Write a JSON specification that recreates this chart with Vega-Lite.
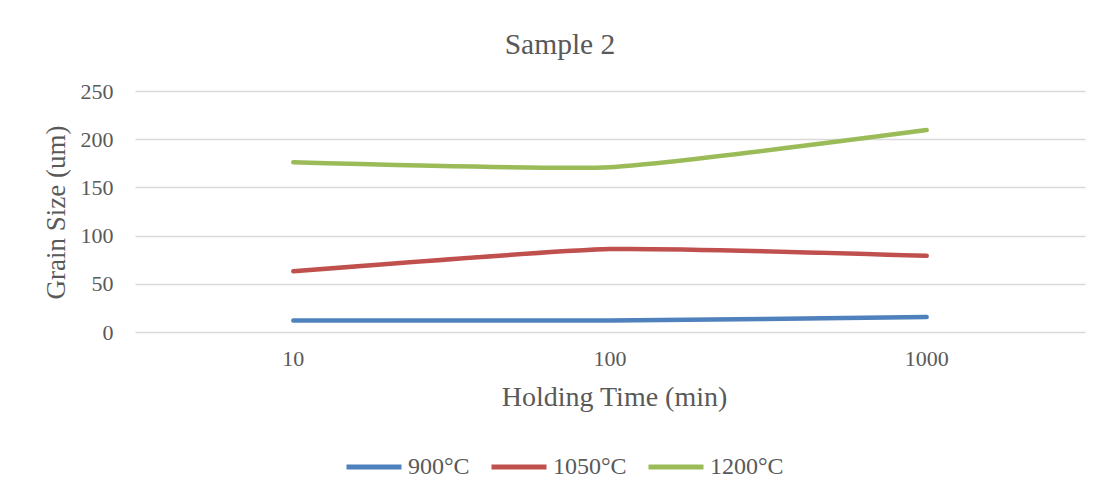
{
  "$schema": "https://vega.github.io/schema/vega-lite/v6.json",
  "width": 950,
  "height": 241,
  "autosize": {"type": "none"},
  "padding": {"left": 135, "top": 91, "right": 23, "bottom": 167},
  "background": "white",
  "config": {
    "font": "Liberation Serif",
    "view": {"stroke": null}
  },
  "title": {
    "text": "Sample 2",
    "font": "Liberation Serif",
    "fontSize": 29.5,
    "fontWeight": "normal",
    "color": "#595959",
    "anchor": "middle",
    "dx": -50,
    "offset": 20
  },
  "data": {
    "values": [
      {"time": "10", "series": "900°C", "size": 12},
      {"time": "100", "series": "900°C", "size": 12},
      {"time": "1000", "series": "900°C", "size": 15.5},
      {"time": "10", "series": "1050°C", "size": 63},
      {"time": "100", "series": "1050°C", "size": 86},
      {"time": "1000", "series": "1050°C", "size": 79},
      {"time": "10", "series": "1200°C", "size": 176},
      {"time": "100", "series": "1200°C", "size": 171},
      {"time": "1000", "series": "1200°C", "size": 209.5}
    ]
  },
  "mark": {"type": "line", "strokeWidth": 4.5, "strokeCap": "round", "interpolate": "cardinal", "tension": 0.5},
  "encoding": {
    "x": {
      "field": "time",
      "type": "ordinal",
      "sort": ["10", "100", "1000"],
      "scale": {"type": "band", "paddingInner": 0, "paddingOuter": 0},
      "axis": {
        "title": "Holding Time (min)",
        "titleFont": "Liberation Serif",
        "titleFontSize": 28,
        "titleFontWeight": "normal",
        "titleColor": "#595959",
        "titlePadding": 14,
        "titleX": 479,
        "titleAlign": "center",
        "labelFont": "Liberation Serif",
        "labelFontSize": 22,
        "labelColor": "#595959",
        "labelAngle": 0,
        "labelPadding": 16,
        "ticks": false,
        "domain": false,
        "grid": false
      }
    },
    "y": {
      "field": "size",
      "type": "quantitative",
      "scale": {"domain": [0, 250]},
      "axis": {
        "values": [0, 50, 100, 150, 200, 250],
        "title": "Grain Size (um)",
        "titleFont": "Liberation Serif",
        "titleFontSize": 27,
        "titleFontWeight": "normal",
        "titleColor": "#595959",
        "titleAngle": -90,
        "titleX": -79,
        "titleY": 121,
        "titleAlign": "center",
        "titleBaseline": "middle",
        "labelFont": "Liberation Serif",
        "labelFontSize": 22,
        "labelColor": "#595959",
        "labelPadding": 22,
        "ticks": false,
        "domain": false,
        "grid": true,
        "gridColor": "#d9d9d9",
        "gridWidth": 1.5
      }
    },
    "color": {
      "field": "series",
      "type": "nominal",
      "sort": ["900°C", "1050°C", "1200°C"],
      "scale": {"domain": ["900°C", "1050°C", "1200°C"], "range": ["#4f81bd", "#c0504d", "#9bbb59"]},
      "legend": {
        "title": null,
        "orient": "none",
        "direction": "horizontal",
        "legendX": 209,
        "legendY": 346,
        "symbolType": "stroke",
        "symbolSize": 3025,
        "symbolStrokeWidth": 5,
        "labelFont": "Liberation Serif",
        "labelFontSize": 24,
        "labelColor": "#595959",
        "labelOffset": 4,
        "columnPadding": 11
      }
    }
  }
}
